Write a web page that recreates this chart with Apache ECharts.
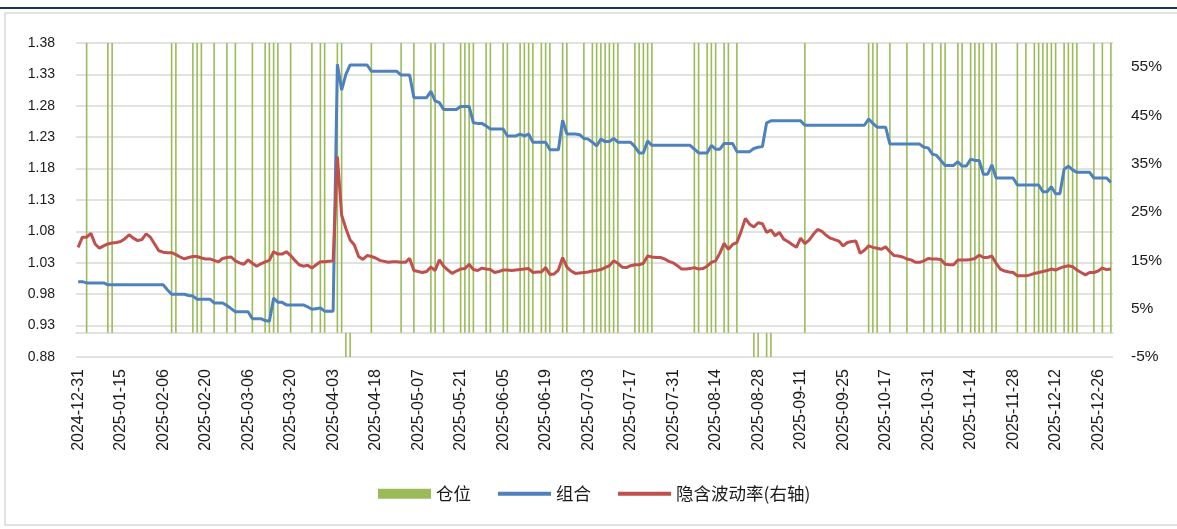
<!DOCTYPE html>
<html>
<head>
<meta charset="utf-8">
<script src="https://cdn.jsdelivr.net/npm/echarts@6/dist/echarts.min.js"></script>
<style>
  html, body { margin: 0; padding: 0; background: #ffffff; }
  #chart { width: 1177px; height: 529px; }
</style>
</head>
<body>
<div id="chart"></div>
<script>
// Exchange holidays (weekdays with no trading) in 2025
const holidays = [
  '2025-01-01', '2025-01-28', '2025-01-29', '2025-01-30', '2025-01-31',
  '2025-02-03', '2025-02-04', '2025-04-04', '2025-05-01', '2025-05-02',
  '2025-05-05', '2025-06-02', '2025-10-01', '2025-10-02', '2025-10-03',
  '2025-10-06', '2025-10-07', '2025-10-08'
];
const firstDay = '2024-12-31';
const lastDay = '2025-12-31';

// 组合 net value (left axis), one value per trading day
const portfolio = [
  1.000, 1.000, 0.998, 0.998, 0.998, 0.998, 0.998, 0.995, 0.995, 0.995,
  0.995, 0.995, 0.995, 0.995, 0.995, 0.995, 0.995, 0.995, 0.995, 0.995,
  0.995, 0.987, 0.980, 0.980, 0.980, 0.980, 0.978, 0.977, 0.972, 0.972,
  0.972, 0.972, 0.966, 0.966, 0.966, 0.962, 0.957, 0.952, 0.952, 0.952,
  0.952, 0.941, 0.941, 0.941, 0.938, 0.937, 0.974, 0.967, 0.967, 0.963,
  0.963, 0.963, 0.963, 0.963, 0.960, 0.956, 0.957, 0.958, 0.953, 0.953,
  0.953, 1.346, 1.305, 1.330, 1.345, 1.345, 1.345, 1.345, 1.345, 1.335,
  1.335, 1.335, 1.335, 1.335, 1.335, 1.335, 1.329, 1.329, 1.329, 1.293,
  1.293, 1.293, 1.293, 1.303, 1.288, 1.285, 1.274, 1.274, 1.274, 1.274,
  1.279, 1.279, 1.279, 1.253, 1.252, 1.252, 1.248, 1.243, 1.243, 1.243,
  1.243, 1.232, 1.232, 1.232, 1.235, 1.232, 1.235, 1.222, 1.222, 1.222,
  1.222, 1.210, 1.210, 1.210, 1.257, 1.235, 1.235, 1.235, 1.234, 1.228,
  1.227, 1.222, 1.216, 1.227, 1.223, 1.223, 1.228, 1.222, 1.222, 1.222,
  1.222, 1.215, 1.205, 1.205, 1.224, 1.217, 1.217, 1.217, 1.217, 1.217,
  1.217, 1.217, 1.217, 1.217, 1.217, 1.211, 1.205, 1.205, 1.205, 1.217,
  1.211, 1.211, 1.220, 1.220, 1.220, 1.207, 1.207, 1.207, 1.207, 1.212,
  1.214, 1.215, 1.253, 1.256, 1.256, 1.256, 1.256, 1.256, 1.256, 1.256,
  1.256, 1.249, 1.249, 1.249, 1.249, 1.249, 1.249, 1.249, 1.249, 1.249,
  1.249, 1.249, 1.249, 1.249, 1.249, 1.249, 1.259, 1.252, 1.246, 1.246,
  1.246, 1.219, 1.219, 1.219, 1.219, 1.219, 1.219, 1.219, 1.219, 1.214,
  1.213, 1.203, 1.201, 1.193, 1.185, 1.185, 1.185, 1.191, 1.184, 1.184,
  1.195, 1.193, 1.193, 1.171, 1.171, 1.186, 1.165, 1.165, 1.165, 1.165,
  1.165, 1.154, 1.154, 1.154, 1.154, 1.154, 1.154, 1.143, 1.143, 1.151,
  1.140, 1.140, 1.179, 1.184, 1.178, 1.174, 1.174, 1.174, 1.174, 1.165,
  1.165, 1.165, 1.165, 1.158
];

// 隐含波动率 (right axis, as a fraction)
const impliedVol = [
  0.177, 0.198, 0.198, 0.206, 0.184, 0.175, 0.180, 0.184, 0.186, 0.187,
  0.189, 0.195, 0.203, 0.196, 0.191, 0.193, 0.205, 0.198, 0.184, 0.170,
  0.167, 0.166, 0.166, 0.162, 0.157, 0.153, 0.156, 0.158, 0.158, 0.155,
  0.153, 0.153, 0.150, 0.147, 0.154, 0.156, 0.157, 0.149, 0.145, 0.142,
  0.151, 0.144, 0.138, 0.143, 0.147, 0.150, 0.168, 0.163, 0.163, 0.168,
  0.160, 0.150, 0.141, 0.138, 0.140, 0.134, 0.141, 0.147, 0.147, 0.148,
  0.149, 0.365, 0.244, 0.216, 0.192, 0.182, 0.158, 0.152, 0.160, 0.158,
  0.155, 0.150, 0.148, 0.146, 0.147, 0.147, 0.146, 0.146, 0.154, 0.129,
  0.127, 0.125, 0.127, 0.136, 0.129, 0.151, 0.138, 0.130, 0.123, 0.128,
  0.132, 0.133, 0.142, 0.131, 0.129, 0.134, 0.132, 0.131, 0.125, 0.127,
  0.130, 0.130, 0.129, 0.130, 0.131, 0.132, 0.133, 0.125, 0.126, 0.126,
  0.135, 0.121, 0.122, 0.130, 0.156, 0.136, 0.128, 0.123, 0.124, 0.125,
  0.126, 0.128, 0.129, 0.131, 0.135, 0.139, 0.149, 0.144, 0.136, 0.135,
  0.139, 0.141, 0.141, 0.144, 0.159, 0.157, 0.156, 0.156, 0.153, 0.148,
  0.145, 0.139, 0.132, 0.132, 0.133, 0.135, 0.132, 0.133, 0.138, 0.146,
  0.149, 0.165, 0.185, 0.173, 0.183, 0.187, 0.210, 0.237, 0.225, 0.219,
  0.228, 0.226, 0.208, 0.213, 0.201, 0.208, 0.194, 0.189, 0.183, 0.177,
  0.196, 0.185, 0.192, 0.204, 0.214, 0.210, 0.202, 0.196, 0.193, 0.190,
  0.180, 0.187, 0.189, 0.190, 0.165, 0.171, 0.180, 0.177, 0.175, 0.173,
  0.178, 0.168, 0.160, 0.159, 0.157, 0.153, 0.151, 0.146, 0.146, 0.149,
  0.154, 0.153, 0.153, 0.152, 0.142, 0.141, 0.141, 0.151, 0.151, 0.151,
  0.152, 0.154, 0.161, 0.156, 0.156, 0.159, 0.144, 0.132, 0.128, 0.126,
  0.125, 0.118, 0.118, 0.118, 0.120, 0.123, 0.125, 0.127, 0.129, 0.132,
  0.130, 0.134, 0.137, 0.139, 0.137, 0.130, 0.125, 0.120, 0.125, 0.125,
  0.128, 0.134, 0.131, 0.132
];

// 仓位 per trading day: 1 long, -1 short, 0 flat (drawn against the right axis)
const position = [
  0, 0, 1, 0, 0, 0, 0, 1, 1, 0,
  0, 0, 0, 0, 0, 0, 0, 0, 0, 0,
  0, 0, 1, 1, 0, 0, 0, 1, 1, 1,
  0, 0, 1, 0, 0, 1, 0, 1, 0, 0,
  0, 1, 0, 0, 1, 1, 1, 1, 0, 0,
  1, 0, 0, 0, 0, 1, 0, 1, 1, 0,
  0, 1, 1, -1, -1, 0, 0, 0, 0, 1,
  0, 0, 0, 0, 0, 0, 1, 0, 0, 1,
  0, 0, 0, 1, 1, 0, 1, 0, 0, 0,
  1, 1, 1, 1, 0, 0, 1, 1, 0, 0,
  1, 1, 0, 0, 1, 1, 1, 1, 0, 1,
  1, 1, 0, 0, 1, 1, 0, 0, 0, 1,
  0, 1, 1, 1, 1, 1, 1, 1, 0, 0,
  0, 1, 1, 1, 1, 1, 0, 0, 0, 0,
  0, 0, 0, 0, 0, 1, 1, 0, 1, 1,
  1, 0, 1, 1, 0, 1, 0, 0, 0, -1,
  -1, 0, -1, -1, 0, 0, 0, 0, 0, 0,
  0, 1, 0, 0, 0, 0, 0, 0, 0, 0,
  0, 0, 0, 0, 0, 0, 1, 1, 1, 0,
  0, 1, 0, 0, 0, 1, 0, 0, 0, 1,
  0, 1, 0, 1, 1, 0, 0, 1, 1, 0,
  1, 1, 1, 1, 0, 1, 1, 0, 0, 0,
  0, 1, 0, 1, 0, 1, 1, 1, 1, 1,
  1, 0, 1, 1, 1, 1, 0, 0, 0, 1,
  0, 1, 0, 1
];

// Build the trading-day calendar: weekdays that are not holidays
function tradingDays(start, end, closed) {
  const out = [];
  const skip = new Set(closed);
  const d = new Date(start + 'T00:00:00Z');
  const stop = new Date(end + 'T00:00:00Z');
  while (d <= stop) {
    const wd = d.getUTCDay();
    const s = d.toISOString().slice(0, 10);
    if (wd !== 0 && wd !== 6 && !skip.has(s)) out.push(s);
    d.setUTCDate(d.getUTCDate() + 1);
  }
  return out;
}
const dates = tradingDays(firstDay, lastDay, holidays);

const GREEN = '#9BBB59', BLUE = '#4F81BD', RED = '#C0504D';
const GRID = '#D9D9D9', TEXT = '#1a1a1a';
const FONT = '"Liberation Sans", "Noto Sans", sans-serif';
// flat stroke used as the legend key of the two line series
const LINE_KEY = 'path://M0,0 H53 V4 H0 Z';

const chart = echarts.init(document.getElementById('chart'), null, { renderer: 'canvas' });
chart.setOption({
  animation: false,
  backgroundColor: '#ffffff',
  graphic: [
    { type: 'line', shape: { x1: 0, y1: 8, x2: 1177, y2: 8 },
      style: { stroke: '#17375E', lineWidth: 2 }, silent: true },
    { type: 'rect', shape: { x: 5, y: 13, width: 1180, height: 512 },
      style: { fill: null, stroke: GRID, lineWidth: 1.5 }, silent: true, z: -1 }
  ],
  grid: { left: 76, right: 64, top: 43, bottom: 172, containLabel: false },
  legend: {
    data: [
      { name: '仓位', icon: 'rect' },
      { name: '组合', icon: LINE_KEY },
      { name: '隐含波动率(右轴)', icon: LINE_KEY }
    ],
    left: 373,
    top: 480,
    itemWidth: 53,
    itemHeight: 10,
    itemGap: 27,
    textStyle: { color: TEXT, fontSize: 17.5, fontFamily: '"Noto Sans CJK SC", sans-serif' }
  },
  xAxis: {
    type: 'category',
    data: dates,
    boundaryGap: true,
    axisLine: { show: true, lineStyle: { color: GRID, width: 1.5 } },
    axisTick: { show: false },
    axisLabel: {
      interval: 9,
      rotate: 90,
      margin: 12,
      color: TEXT,
      fontSize: 16,
      fontFamily: FONT
    },
    splitLine: { show: false }
  },
  yAxis: [
    {
      type: 'value',
      min: 0.88,
      max: 1.38,
      interval: 0.05,
      axisLine: { show: false },
      axisTick: { show: false },
      axisLabel: {
        color: TEXT, fontSize: 14, fontFamily: FONT, margin: 21,
        formatter: v => v.toFixed(2)
      },
      splitLine: { show: true, lineStyle: { color: GRID, width: 1.5 } }
    },
    {
      type: 'value',
      min: -0.05,
      max: 0.6,
      interval: 0.1,
      axisLine: { show: false },
      axisTick: { show: false },
      axisLabel: {
        color: TEXT, fontSize: 15.5, fontFamily: FONT, margin: 18,
        showMaxLabel: false,
        formatter: v => Math.round(v * 100) + '%'
      },
      splitLine: { show: false }
    }
  ],
  series: [
    {
      name: '仓位',
      type: 'bar',
      yAxisIndex: 1,
      data: position,
      barWidth: 1.6,
      clip: true,
      itemStyle: { color: GREEN },
      z: 1
    },
    {
      name: '组合',
      type: 'line',
      yAxisIndex: 0,
      data: portfolio,
      symbol: 'none',
      lineStyle: { color: BLUE, width: 3 },
      itemStyle: { color: BLUE },
      z: 3
    },
    {
      name: '隐含波动率(右轴)',
      type: 'line',
      yAxisIndex: 1,
      data: impliedVol,
      symbol: 'none',
      lineStyle: { color: RED, width: 3 },
      itemStyle: { color: RED },
      z: 4
    }
  ]
});
</script>
</body>
</html>
